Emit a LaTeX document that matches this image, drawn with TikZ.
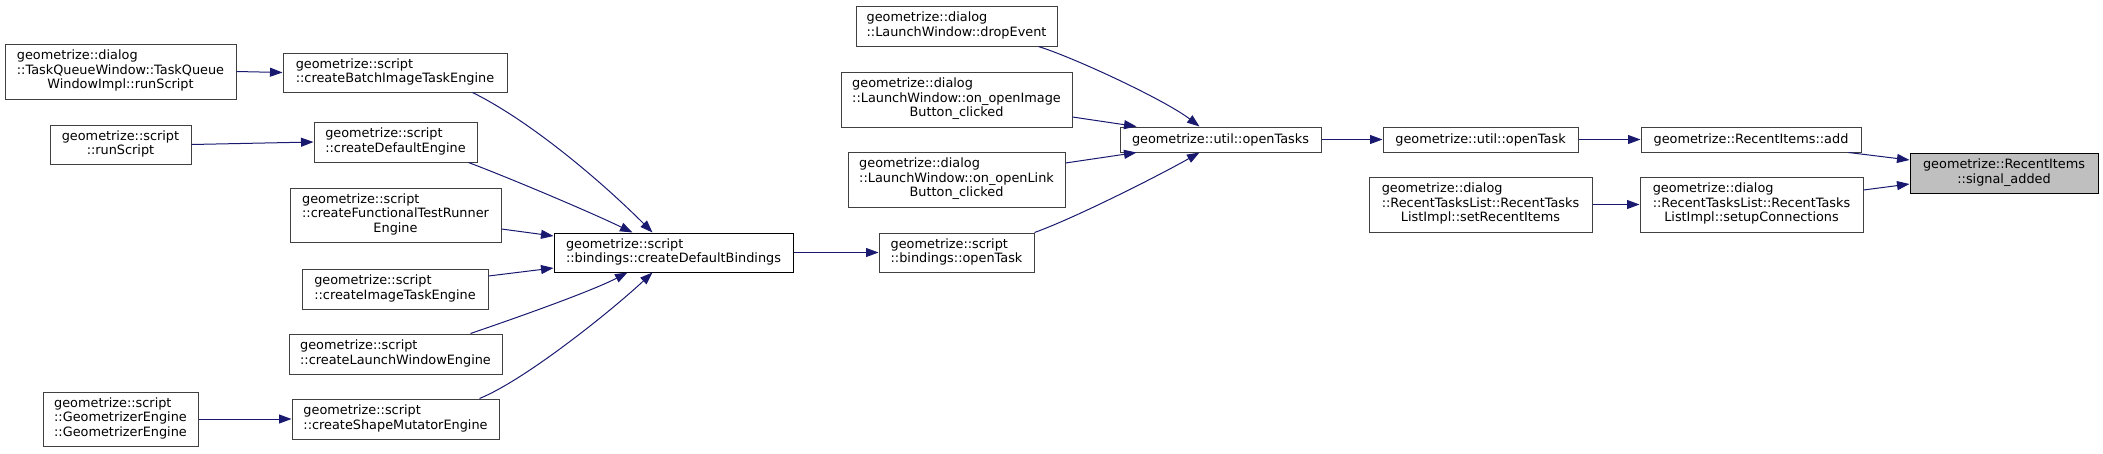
\documentclass[tikz,border=0pt]{standalone}
\usepackage{fontspec}
\setmainfont{DejaVu Sans}
\usetikzlibrary{arrows.meta}
\definecolor{edgeblue}{HTML}{191970}
\definecolor{boxgray}{HTML}{404040}
\definecolor{hlfill}{HTML}{BFBFBF}
\newcommand{\Lst}[1]{\multicolumn{1}{@{}c@{}}{#1}}
\newcommand{\Lines}[1]{\begin{tabular}{@{}l@{}}#1\end{tabular}}
\begin{document}
\begin{tikzpicture}[x=1pt,y=-1pt,
  fn/.style={draw=boxgray, line width=1pt, inner sep=0pt, fill=white,
             font=\fontsize{12.85}{14.5}\selectfont},
  sz/.style 2 args={minimum width=#1pt, minimum height=#2pt},
  call/.style={draw=edgeblue, line width=1pt, -{Triangle[length=12.5pt,width=9pt]}}]
\useasboundingbox (0,0) rectangle (2103,453);

% column 1
\node[fn, sz={231}{55}] (tq) at (120.5,71.5) {\Lines{geometrize::dialog\\::TaskQueueWindow::TaskQueue\\\Lst{WindowImpl::runScript}}};
\node[fn, sz={141}{39}] (runscript) at (120.5,144.5) {\Lines{geometrize::script\\\Lst{::runScript}}};
\node[fn, sz={155}{54}] (geneng) at (120.5,419) {\Lines{geometrize::script\\::GeometrizerEngine\\\Lst{::GeometrizerEngine}}};

% column 2
\node[fn, sz={224}{39}] (batch) at (395,72.5) {\Lines{geometrize::script\\\Lst{::createBatchImageTaskEngine}}};
\node[fn, sz={163}{40}] (defeng) at (395.5,142) {\Lines{geometrize::script\\\Lst{::createDefaultEngine}}};
\node[fn, sz={211}{54}] (functest) at (395.5,215) {\Lines{geometrize::script\\::createFunctionalTestRunner\\\Lst{Engine}}};
\node[fn, sz={186}{40}] (imgtask) at (395,289) {\Lines{geometrize::script\\\Lst{::createImageTaskEngine}}};
\node[fn, sz={213}{40}] (launch) at (395.5,354) {\Lines{geometrize::script\\\Lst{::createLaunchWindowEngine}}};
\node[fn, sz={207}{40}] (shape) at (395.5,419) {\Lines{geometrize::script\\\Lst{::createShapeMutatorEngine}}};

% column 3
\node[fn, draw=black, sz={239}{39}] (defbind) at (673.5,252.5) {\Lines{geometrize::script\\\Lst{::bindings::createDefaultBindings}}};

% column 4
\node[fn, sz={201}{40}] (drop) at (956.5,26) {\Lines{geometrize::dialog\\\Lst{::LaunchWindow::dropEvent}}};
\node[fn, sz={231}{55}] (openimg) at (956.5,99.5) {\Lines{geometrize::dialog\\::LaunchWindow::on\_openImage\\\Lst{Button\_clicked}}};
\node[fn, sz={217}{55}] (openlink) at (956.5,179.5) {\Lines{geometrize::dialog\\::LaunchWindow::on\_openLink\\\Lst{Button\_clicked}}};
\node[fn, sz={155}{39}] (bopentask) at (956.5,252.5) {\Lines{geometrize::script\\\Lst{::bindings::openTask}}};

% column 5
\node[fn, sz={201}{25}] (opentasks) at (1220.5,139.5) {geometrize::util::openTasks};

% column 6
\node[fn, sz={195}{25}] (uopentask) at (1480.5,139.5) {geometrize::util::openTask};
\node[fn, sz={223}{55}] (setrecent) at (1480.5,204.5) {\Lines{geometrize::dialog\\::RecentTasksList::RecentTasks\\\Lst{ListImpl::setRecentItems}}};

% column 7
\node[fn, sz={220}{25}] (add) at (1751,139.5) {geometrize::RecentItems::add};
\node[fn, sz={223}{55}] (setup) at (1751.5,204.5) {\Lines{geometrize::dialog\\::RecentTasksList::RecentTasks\\\Lst{ListImpl::setupConnections}}};

% column 8
\node[fn, draw=black, fill=hlfill, sz={188}{40}] (signal) at (2004,173) {\Lines{geometrize::RecentItems\\\Lst{::signal\_added}}};

% edges
\draw[call] (tq.east) -- (batch.west);
\draw[call] (runscript.east) -- (defeng.west);
\draw[call] (geneng.east) -- (shape.west);

\draw[call] ([xshift=-35pt]batch.south east) .. controls (532,122) and (603,183) .. ([xshift=99pt]defbind.north west);
\draw[call] ([xshift=-9pt]defeng.south east) .. controls (512,179) and (590,212) .. ([xshift=79pt]defbind.north west);
\draw[call] ([yshift=-14pt]functest.east) -- ([yshift=16.5pt]defbind.west);
\draw[call] ([yshift=13pt]imgtask.east) -- ([yshift=-15.5pt]defbind.west);
\draw[call] ([xshift=-32pt]launch.north east) .. controls (510,320) and (590,292) .. ([xshift=74pt]defbind.south west);
\draw[call] ([xshift=-20pt]shape.north east) .. controls (525,380) and (610,312) .. ([xshift=99pt]defbind.south west);

\draw[call] (defbind.east) -- (bopentask.west);

\draw[call] ([xshift=-19pt]drop.south east) .. controls (1075,58) and (1165,100) .. ([xshift=80pt]opentasks.north west);
\draw[call] ([yshift=-17.5pt]openimg.east) -- ([xshift=17pt]opentasks.north west);
\draw[call] ([yshift=16.5pt]openlink.east) -- ([xshift=17pt]opentasks.south west);
\draw[call] (bopentask.north east) .. controls (1075,218) and (1160,175) .. ([xshift=80pt]opentasks.south west);

\draw[call] (opentasks.east) -- (uopentask.west);
\draw[call] (uopentask.east) -- (add.west);
\draw[call] (setrecent.east) -- (setup.west);
\draw[call] ([xshift=-13pt]add.south east) -- ([yshift=13pt]signal.west);
\draw[call] ([yshift=14.5pt]setup.east) -- ([yshift=-11pt]signal.west);
\end{tikzpicture}
\end{document}
